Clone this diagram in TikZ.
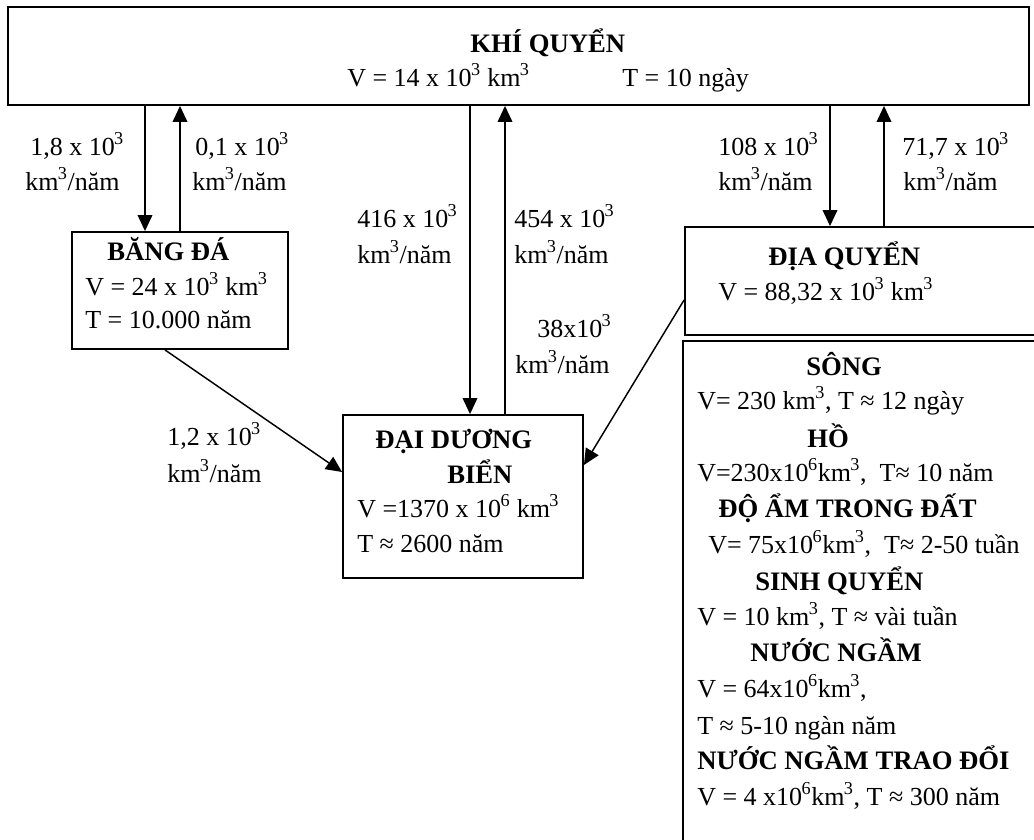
\documentclass[tikz,border=0pt]{standalone}
\usepackage{fontspec}
\setmainfont{Liberation Serif}
\usetikzlibrary{arrows.meta,fit}
\newcommand{\sps}[1]{\textsuperscript{\kern-0.5pt#1}}
\newcommand{\fs}{\fontsize{19.5}{23}\selectfont}
\newcommand{\fb}{\fontsize{20}{24}\selectfont\bfseries}
\begin{document}
\begin{tikzpicture}[x=0.75pt,y=-0.75pt,
  box/.style={draw, line width=1.4pt, inner sep=0pt},
  arr/.style={line width=1.1pt, -{Triangle[length=12pt,width=11pt]}},
  lbl/.style={inner sep=0pt, anchor=base west, font=\fs},
  ttl/.style={inner sep=0pt, anchor=base west, font=\fb}]
\useasboundingbox (0,0) rectangle (1034,839);
\fill[white] (0,0) rectangle (1034,839);
% boxes
\node[box, fit={(8,7) (1029,105)}] (kq) {};
\node[box, fit={(72,232) (288,349)}] (bd) {};
\node[box, fit={(343,415) (583,578)}] (dd) {};
\node[box, fit={(685,227) (1050,335)}] (dq) {};
\coordinate (lbtr) at (1050,341);
\coordinate (lbtl) at (683,341);
\coordinate (lbbl) at (683,850);
\draw[line width=1.4pt] (lbtr) -- (lbtl) -- (lbbl);
% connector x / y guides
\coordinate (x1) at (145,0);
\coordinate (x2) at (180,0);
\coordinate (x3) at (470,0);
\coordinate (x4) at (505,0);
\coordinate (x5) at (830,0);
\coordinate (x6) at (884,0);
\coordinate (s1) at (165,0);
\coordinate (e1) at (0,472);
\coordinate (s2) at (0,300);
\coordinate (e2) at (0,465);
\draw[arr] (kq.south -| x1) -- (bd.north -| x1);
\draw[arr] (bd.north -| x2) -- (kq.south -| x2);
\draw[arr] (kq.south -| x3) -- (dd.north -| x3);
\draw[arr] (dd.north -| x4) -- (kq.south -| x4);
\draw[arr] (kq.south -| x5) -- (dq.north -| x5);
\draw[arr] (dq.north -| x6) -- (kq.south -| x6);
\draw[arr] (bd.south -| s1) -- (dd.west |- e1);
\draw[arr] (dq.west |- s2) -- (dd.east |- e2);
% atmosphere
\node[ttl] (t1) at (470,52) {KHÍ QUYỂN};
\node[lbl] (t2) at (347,86) {V = 14 x 10\sps{3} km\sps{3}};
\node[lbl] (t3) at (622,86) {T = 10 ngày};
% flow labels
\node[lbl] (f1a) at (30,155) {1,8 x 10\sps{3}};
\node[lbl] (f1b) at (25,190) {km\sps{3}/năm};
\node[lbl] (f2a) at (195,155) {0,1 x 10\sps{3}};
\node[lbl] (f2b) at (192,190) {km\sps{3}/năm};
\node[lbl] (f3a) at (357,227) {416 x 10\sps{3}};
\node[lbl] (f3b) at (357,263) {km\sps{3}/năm};
\node[lbl] (f4a) at (514,227) {454 x 10\sps{3}};
\node[lbl] (f4b) at (514,263) {km\sps{3}/năm};
\node[lbl] (f5a) at (718,155) {108 x 10\sps{3}};
\node[lbl] (f5b) at (718,190) {km\sps{3}/năm};
\node[lbl] (f6a) at (902,155) {71,7 x 10\sps{3}};
\node[lbl] (f6b) at (903,190) {km\sps{3}/năm};
\node[lbl] (f7a) at (537,337) {38x10\sps{3}};
\node[lbl] (f7b) at (515,373) {km\sps{3}/năm};
\node[lbl] (f8a) at (167,445) {1,2 x 10\sps{3}};
\node[lbl] (f8b) at (167,482) {km\sps{3}/năm};
% ice
\node[ttl] (b1) at (107,260) {BĂNG ĐÁ};
\node[lbl] (b2) at (85,295) {V = 24 x 10\sps{3} km\sps{3}};
\node[lbl] (b3) at (85,328) {T = 10.000 năm};
% ocean
\node[ttl] (o1) at (375,448) {ĐẠI DƯƠNG};
\node[ttl] (o2) at (447,483) {BIỂN};
\node[lbl] (o3) at (357,517) {V =1370 x 10\sps{6} km\sps{3}};
\node[lbl] (o4) at (357,552) {T ≈ 2600 năm};
% lithosphere
\node[ttl] (d1) at (768,265) {ĐỊA QUYỂN};
\node[lbl] (d2) at (718,300) {V = 88,32 x 10\sps{3} km\sps{3}};
% list
\node[ttl] (l1) at (806,375) {SÔNG};
\node[lbl] (l2) at (697,409) {V= 230 km\sps{3}, T ≈ 12 ngày};
\node[ttl] (l3) at (807,447) {HỒ};
\node[lbl] (l4) at (697,481) {V=230x10\sps{6}km\sps{3},\ \ T≈ 10 năm};
\node[ttl] (l5) at (718,517) {ĐỘ ẨM TRONG ĐẤT};
\node[lbl] (l6) at (708,553) {V= 75x10\sps{6}km\sps{3},\ \ T≈ 2-50 tuần};
\node[ttl] (l7) at (755,590) {SINH QUYỂN};
\node[lbl] (l8) at (697,625) {V = 10 km\sps{3}, T ≈ vài tuần};
\node[ttl] (l9) at (750,661) {NƯỚC NGẦM};
\node[lbl] (l10) at (697,697) {V = 64x10\sps{6}km\sps{3},};
\node[lbl] (l11) at (697,734) {T ≈ 5-10 ngàn năm};
\node[ttl] (l12) at (697,769) {NƯỚC NGẦM TRAO ĐỔI};
\node[lbl] (l13) at (697,805) {V = 4 x10\sps{6}km\sps{3}, T ≈ 300 năm};
\end{tikzpicture}
\end{document}
